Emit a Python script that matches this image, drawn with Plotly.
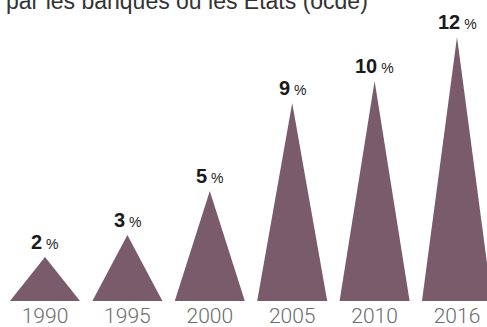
import plotly.graph_objects as go

years = ["1990", "1995", "2000", "2005", "2010", "2016"]
values = [2, 3, 5, 9, 10, 12]
title_text = "par les banques ou les États (ocde)"

fill_color = "#7a5b6c"
half_w = 0.425

fig = go.Figure()
for i, (yr, v) in enumerate(zip(years, values)):
    fig.add_trace(go.Scatter(
        x=[i - half_w, i, i + half_w, i - half_w],
        y=[0, v, 0, 0],
        fill="toself", fillcolor=fill_color,
        line=dict(width=0), mode="lines", hoverinfo="skip", showlegend=False,
    ))
    fig.add_annotation(
        x=i, y=v, xref="x", yref="y",
        text=f"<b>{v}</b><span style='font-size:14px'> %</span>",
        showarrow=False, yanchor="middle", yshift=15,
        font=dict(family="Liberation Sans, Arial", size=20, color="#1a1a1a"),
    )

fig.add_annotation(
    x=0.008, y=1.0, xref="paper", yref="paper", xanchor="left", yanchor="middle",
    text=title_text, showarrow=False, yshift=-1,
    font=dict(family="Liberation Sans, Arial", size=23, color="#333333"),
)

fig.update_layout(
    width=487, height=327,
    margin=dict(l=0, r=0, t=0, b=26),
    plot_bgcolor="white", paper_bgcolor="white",
    xaxis=dict(
        range=[-0.546, 5.364], tickmode="array",
        tickvals=list(range(len(years))), ticktext=years,
        showgrid=False, zeroline=False, showline=False, ticks="",
        tickfont=dict(family="Roboto", size=21, color="#6b6b6b", weight=300),
        ticklabelstandoff=0, automargin=False,
        fixedrange=True,
    ),
    yaxis=dict(range=[0, 301 / 22], visible=False, fixedrange=True, automargin=False),
)

fig.write_html("out.html")
